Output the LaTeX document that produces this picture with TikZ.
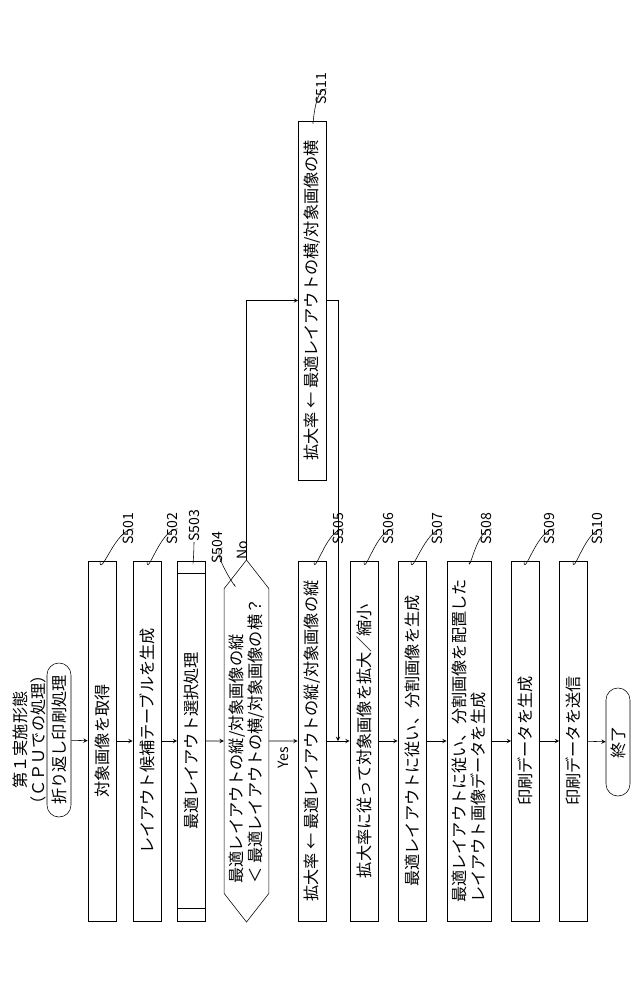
\documentclass[tikz,border=0pt]{standalone}
\usepackage{fontspec}
\setmainfont{Noto Sans CJK JP}
\usetikzlibrary{arrows,shapes.symbols}

\tikzset{
  stepbox/.style={draw, rotate=90, minimum width=9cm, minimum height=0.7cm, inner sep=2pt, font=\fontsize{11.5}{14}\selectfont},
  termbox/.style={draw, rotate=90, rounded corners=0.3cm, minimum height=0.6cm, inner sep=2pt, font=\fontsize{11.5}{14}\selectfont},
  steplabel/.style={rotate=90, anchor=west, inner sep=0pt, font=\fontsize{10}{12}\selectfont},
  flow/.style={->,>=stealth}
}

\begin{document}
\begin{tikzpicture}[x=0.025cm, y=-0.025cm]
\useasboundingbox (0,0) rectangle (640,989);

\node[rotate=90, font=\fontsize{11.5}{14}\selectfont] (t1) at (20,740) {第１実施形態};
\node[rotate=90, font=\fontsize{11.5}{14}\selectfont] (t2) at (38,740) {（ＣＰＵでの処理）};

\node[termbox, minimum width=3.85cm] (start) at (59,740) {折り返し印刷処理};

\node[stepbox] (s1) at (102,741) {対象画像を取得};
\node[stepbox] (s2) at (147,741) {レイアウト候補テーブルを生成};
\node[stepbox] (s3) at (191.5,741) {最適レイアウト選択処理};
\draw (178,573) -- (205,573);
\draw (178,908) -- (205,908);

\node[draw, rotate=90, shape=signal, signal to=east and west, signal pointer angle=76,
      minimum width=9.05cm, minimum height=1.12cm, inner sep=1pt, align=left,
      font=\fontsize{11.5}{14}\selectfont] (s4) at (246.5,741)
{最適レイアウトの縦/対象画像の縦\\＜ 最適レイアウトの横/対象画像の横？};

\node[stepbox] (s5) at (312,741) {拡大率 ← 最適レイアウトの縦/対象画像の縦};
\node[stepbox] (s6) at (364,741) {拡大率に従って対象画像を拡大／縮小};
\node[stepbox] (s7) at (412,741) {最適レイアウトに従い、分割画像を生成};
\node[stepbox, minimum height=1.1cm, align=left] (s8) at (469,741)
{最適レイアウトに従い、分割画像を配置した\\レイアウト画像データを生成};
\node[stepbox] (s9) at (525.5,741) {印刷データを生成};
\node[stepbox] (s10) at (573.5,741) {印刷データを送信};

\node[termbox, minimum width=2.7cm] (stop) at (618,742) {終了};

\node[stepbox, minimum width=8.98cm] (s11) at (312.5,300.5) {拡大率 ← 最適レイアウトの横/対象画像の横};

% step labels
\node[steplabel] (l1) at (128,545) {S501};
\node[steplabel] (l2) at (172,545) {S502};
\node[steplabel] (l3) at (194,542) {S503};
\node[steplabel] (l4) at (217,564) {S504};
\node[steplabel] (l5) at (338,545) {S505};
\node[steplabel] (l6) at (388,545) {S506};
\node[steplabel] (l7) at (437,545) {S507};
\node[steplabel] (l8) at (486,545) {S508};
\node[steplabel] (l9) at (549,545) {S509};
\node[steplabel] (l10) at (597,545) {S510};
\node[steplabel] (l11) at (321,105) {S511};

\draw (100,561) to[out=-90,in=180] (l1.south);
\draw (147,561) to[out=-90,in=180] (l2.south);
\draw (193,561) to[out=-90,in=-90] (l3.west);
\draw (234,584) to[out=-60,in=180] (l4.south);
\draw (314,561) to[out=-90,in=180] (l5.south);
\draw (364,561) to[out=-90,in=180] (l6.south);
\draw (411,561) to[out=-90,in=180] (l7.south);
\draw (469,561) to[out=-90,in=180] (l8.south);
\draw (524,561) to[out=-90,in=180] (l9.south);
\draw (573,561) to[out=-90,in=180] (l10.south);
\draw (313,121) to[out=-90,in=180] (l11.south);

\node[rotate=90, font=\fontsize{10}{12}\selectfont] (no) at (242,550) {No};
\node[rotate=90, font=\fontsize{10}{12}\selectfont] (yes) at (283,758) {Yes};

% main flow
\draw[flow] (start) -- (s1);
\draw[flow] (s1) -- (s2);
\draw[flow] (s2) -- (s3);
\draw[flow] (s3) -- (s4);
\draw[flow] (s4) -- (s5);
\draw[flow] (s5) -- (s6);
\draw[flow] (s6) -- (s7);
\draw[flow] (s7) -- (s8);
\draw[flow] (s8) -- (s9);
\draw[flow] (s9) -- (s10);
\draw[flow] (s10) -- (stop);

% No branch
\draw[flow] (s4.east) |- (s11.north);
\coordinate (join) at (338,741);
\draw[flow] (s11.south) -| (join);
\end{tikzpicture}
\end{document}
